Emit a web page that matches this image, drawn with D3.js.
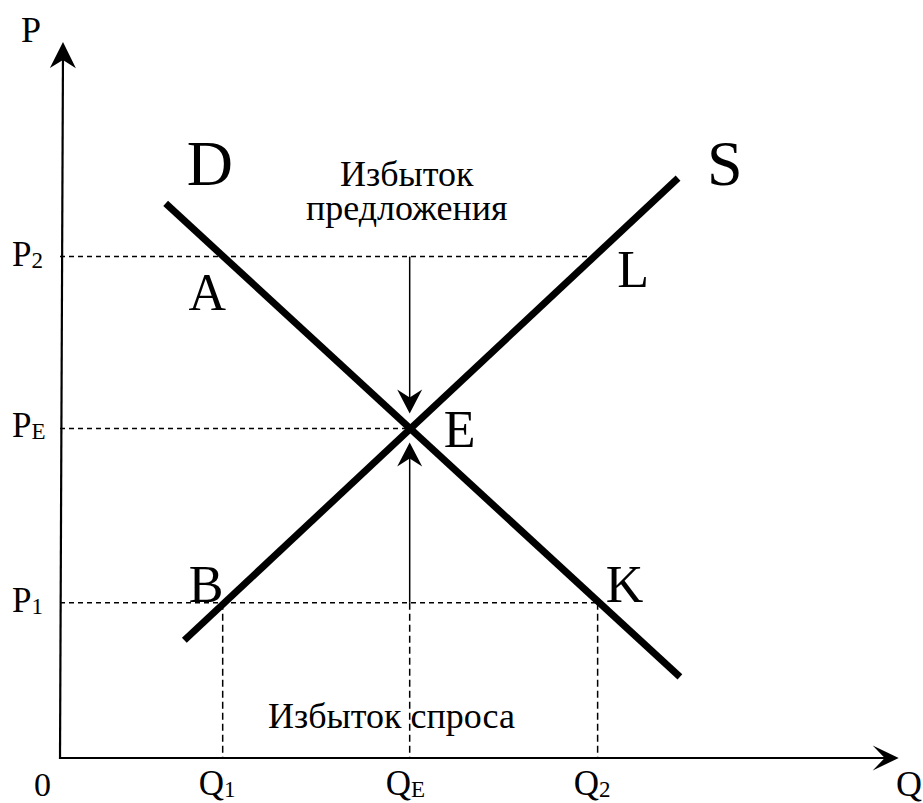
<!DOCTYPE html>
<html>
<head>
<meta charset="utf-8">
<script src="https://cdn.jsdelivr.net/npm/d3@7"></script>
<style>
  body { margin: 0; background: #fff; }
</style>
</head>
<body>
<svg id="chart" width="923" height="803"></svg>
<script>
// quantities / prices (arbitrary units)
var qTicks = [1.74, 3.74, 5.75]
  , qNames = ["1", "E", "2"]
  , pTicks = [1.78, 3.78, 5.75]
  , pNames = ["1", "E", "2"]
  , demand = [[1.13, 6.36], [6.63, 0.93]]
  , supply = [[1.33, 1.35], [6.61, 6.65]]
  , qMax = 8.97
  , pMax = 8.21

var svg = d3.select("#chart")

var x = d3.scaleLinear().domain([0, 10]).range([60, 995])
var y = d3.scaleLinear().domain([0, 10]).range([758, -114])

var Q1 = qTicks[0], QE = qTicks[1], Q2 = qTicks[2]
var P1 = pTicks[0], PE = pTicks[1], P2 = pTicks[2]

// q on a straight line at price p
function qAt(line, p) {
  var a = line[0], b = line[1]
  return a[0] + (p - a[1]) * (b[0] - a[0]) / (b[1] - a[1])
}

function seg(x1, y1, x2, y2) {
  return svg.append("line")
    .attr("x1", x1).attr("y1", y1)
    .attr("x2", x2).attr("y2", y2)
    .attr("stroke", "#000")
}

// notched arrowhead, tip at (tx,ty), pointing along angle a
function head(tx, ty, a, len, half, notch) {
  var c = Math.cos(a), s = Math.sin(a)
  function pt(u, v) { return [tx - u * c - v * s, ty - u * s + v * c] }
  svg.append("path")
    .attr("d", d3.line()([pt(0, 0), pt(len, half), pt(len - notch, 0), pt(len, -half)]) + "Z")
    .attr("fill", "#000")
}

// dashed guide lines
var dash = "5,4"
seg(x(0), y(P2), x(qAt(supply, P2)) - 3, y(P2)).attr("stroke-width", 1.5).attr("stroke-dasharray", dash)
seg(x(0), y(PE), x(QE) - 4, y(PE)).attr("stroke-width", 1.5).attr("stroke-dasharray", dash)
seg(x(0), y(P1), x(qAt(demand, P1)), y(P1)).attr("stroke-width", 1.5).attr("stroke-dasharray", dash)
;[Q1, QE, Q2].forEach(function(q) {
  seg(x(q), y(P1), x(q), y(0)).attr("stroke-width", 1.5).attr("stroke-dasharray", "7,4")
})

// arrows into the equilibrium
seg(x(QE), y(P2), x(QE), y(PE) - 20).attr("stroke-width", 1.5)
head(x(QE), y(PE) - 15, Math.PI / 2, 24, 12.5, 8)
seg(x(QE), y(P1), x(QE), y(PE) + 20).attr("stroke-width", 1.5)
head(x(QE), y(PE) + 14, -Math.PI / 2, 24, 12.5, 8)

// demand and supply
;[demand, supply].forEach(function(l) {
  seg(x(l[0][0]), y(l[0][1]), x(l[1][0]), y(l[1][1])).attr("stroke-width", 7)
})

// axes
seg(x(0), y(0), x(qMax) - 8, y(0)).attr("stroke-width", 2.2)
head(x(qMax), y(0), 0, 26, 12.5, 12)
seg(x(0), y(0) + 1, x(0) + 3, y(pMax) + 8).attr("stroke-width", 2.2)
head(x(0) + 3, y(pMax), -Math.PI / 2 + 0.004, 26, 13, 8)

// text
function label(t, px, py, size, anchor) {
  return svg.append("text").attr("x", px).attr("y", py)
    .style("font-family", "'Liberation Serif'")
    .attr("text-anchor", anchor || "start")
    .attr("font-size", size).text(t)
}
function sub(main, s, px, py) {
  var t = svg.append("text").attr("x", px).attr("y", py)
    .style("font-family", "'Liberation Serif'").attr("font-size", 35)
  t.append("tspan").text(main)
  t.append("tspan").attr("font-size", 23).attr("dy", 2).text(s)
}

label("P", 21, 42, 36)
label("0", 34, 796, 34)
label("Q", 896, 796, 36)

pTicks.forEach(function(p, i) { sub("P", pNames[i], 12, y(p) + 9) })
qTicks.forEach(function(q, i) { sub("Q", qNames[i], x(q) - 24, 795) })

label("D", x(demand[0][0]) + 21, 185, 64)
label("S", x(supply[1][0]) + 29, 185, 64)
label("A", x(qAt(demand, P2)) - 35, y(P2) + 53, 52)
label("L", x(qAt(supply, P2)) + 23, y(P2) + 30, 52)
label("E", x(QE) + 34, y(PE) + 19, 52)
label("B", x(Q1) - 34, y(P1) - 1, 52)
label("K", x(Q2) + 8, y(P1) - 1, 52)

label("Избыток", x(QE) - 3, 186, 36, "middle")
label("предложения", x(QE) - 3, 220, 36, "middle")
label("Избыток спроса", 268, 728, 36)
</script>
</body>
</html>
